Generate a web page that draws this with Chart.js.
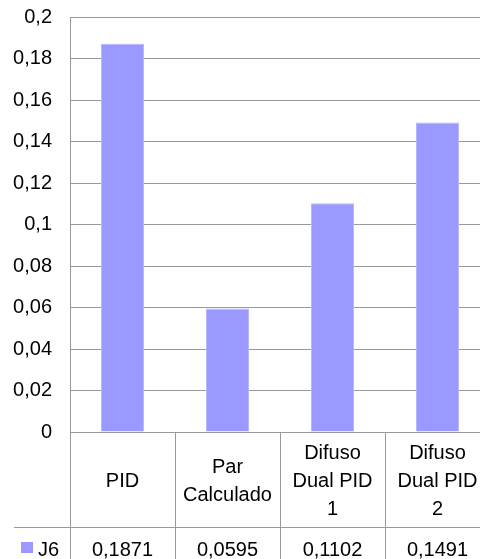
<!DOCTYPE html>
<html>
<head>
<meta charset="utf-8">
<script src="https://cdn.jsdelivr.net/npm/chart.js@4/dist/chart.umd.min.js"></script>
<style>
  html, body { margin: 0; padding: 0; background: #fff; overflow: hidden; }
  #wrap { width: 480px; height: 559px; overflow: hidden; position: relative; }
  canvas { display: block; }
</style>
</head>
<body>
<div id="wrap"><canvas id="c" width="490" height="559"></canvas></div>
<script>
// Categories (multi-line labels for the data table) and the J6 series
const categories = [["PID"], ["Par", "Calculado"], ["Difuso", "Dual PID", "1"], ["Difuso", "Dual PID", "2"]];
const seriesName = "J6";
const j6Values = [0.1871, 0.0595, 0.1102, 0.1491];
const yTicks = [0, 0.02, 0.04, 0.06, 0.08, 0.1, 0.12, 0.14, 0.16, 0.18, 0.2];

const FAMILY = "'Liberation Sans', Arial, sans-serif";
const FONT = "20px " + FAMILY;
const BAR = "#9999ff";
const LINE = "#999999";
const TABLE_H = 127;

const fmt = v => String(Math.round(v * 10000) / 10000).replace(".", ",");

// Data table drawn under the plot area: category row and value row
const dataTable = {
  id: "dataTable",
  afterDraw(chart) {
    const ctx = chart.ctx;
    const x = chart.scales.x;
    const area = chart.chartArea;
    const top = area.bottom;
    const rowSplit = top + 95;
    const bottom = chart.height;
    const step = x.getPixelForValue(1) - x.getPixelForValue(0);
    ctx.save();
    ctx.strokeStyle = LINE;
    ctx.lineWidth = 1;
    // horizontal rules
    ctx.beginPath();
    ctx.moveTo(area.left, top + 0.5);
    ctx.lineTo(chart.width, top + 0.5);
    ctx.moveTo(14, rowSplit + 0.5);
    ctx.lineTo(chart.width, rowSplit + 0.5);
    // vertical rules between columns
    for (let i = 0; i <= categories.length; i++) {
      const bx = Math.round(x.getPixelForValue(i) - step / 2) + 0.5;
      ctx.moveTo(bx, top);
      ctx.lineTo(bx, bottom);
    }
    ctx.stroke();

    ctx.fillStyle = "#000";
    ctx.font = FONT;
    ctx.textAlign = "center";
    ctx.textBaseline = "alphabetic";
    const lh = 28;
    const capHalf = 7.2;
    const mid = (top + rowSplit) / 2;
    categories.forEach((lines, i) => {
      const cx = x.getPixelForValue(i);
      const y0 = mid - (lines.length - 1) * lh / 2 + capHalf;
      lines.forEach((t, k) => ctx.fillText(t, cx, y0 + k * lh));
      ctx.fillText(fmt(j6Values[i]), cx, rowSplit + 29);
    });
    // legend key + series name
    ctx.fillStyle = BAR;
    ctx.fillRect(21, rowSplit + 15, 12, 11);
    ctx.fillStyle = "#000";
    ctx.textAlign = "left";
    ctx.fillText(seriesName, 38, rowSplit + 29);
    ctx.restore();
  }
};

new Chart(document.getElementById("c"), {
  type: "bar",
  data: {
    labels: categories.map(l => l.join(" ")),
    datasets: [{
      label: seriesName,
      data: j6Values,
      backgroundColor: BAR,
      borderColor: "#b8b8ff",
      borderWidth: 1,
      categoryPercentage: 1,
      barPercentage: 0.41
    }]
  },
  options: {
    responsive: false,
    animation: false,
    layout: { padding: { top: 17, bottom: TABLE_H, left: 0, right: 0 } },
    plugins: { legend: { display: false }, tooltip: { enabled: false } },
    scales: {
      x: {
        display: false,
        offset: true,
        grid: { display: false }
      },
      y: {
        min: 0,
        max: 0.2,
        afterBuildTicks(scale) { scale.ticks = yTicks.map(v => ({ value: v })); },
        afterFit(scale) {
          scale.width = 70;
          scale.paddingTop = 0;
          scale.paddingBottom = 0;
        },
        ticks: {
          color: "#000",
          font: { family: FAMILY, size: 20 },
          padding: 18,
          callback: v => fmt(v)
        },
        grid: { color: LINE, lineWidth: 1, drawTicks: false },
        border: { display: true, color: LINE, width: 1 }
      }
    }
  },
  plugins: [dataTable]
});
</script>
</body>
</html>
